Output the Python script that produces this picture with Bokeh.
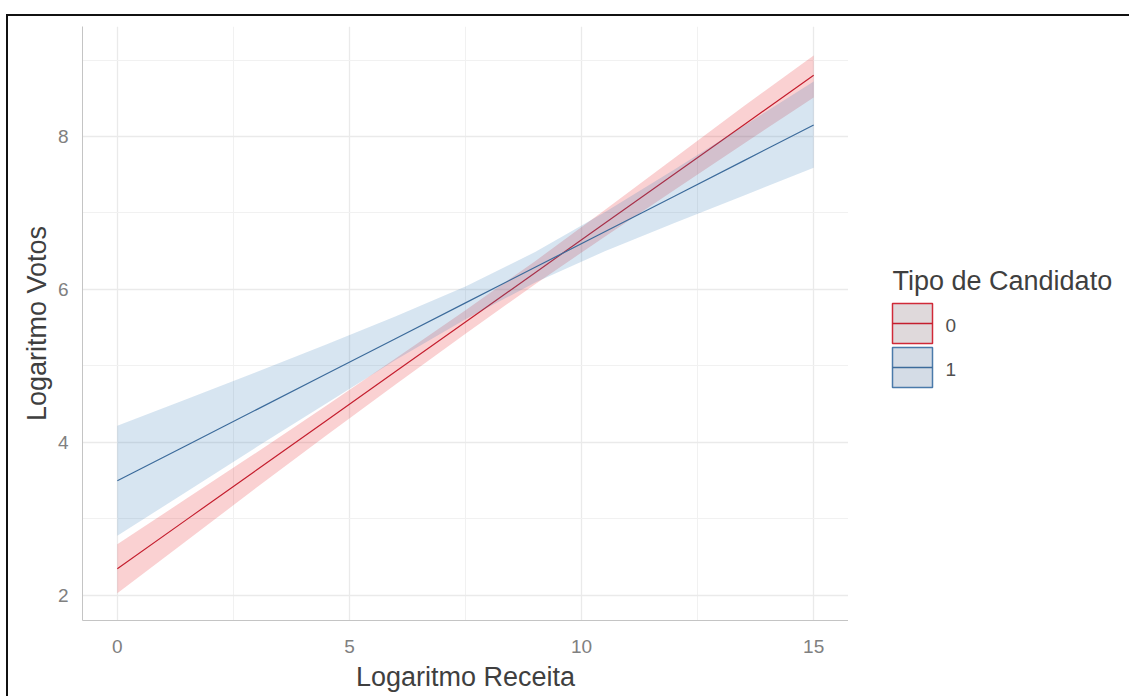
from bokeh.plotting import figure
from bokeh.layouts import row
from bokeh.models import Range1d, FixedTicker, ColumnDataSource
from bokeh.core.properties import value
from bokeh.embed import file_html
from bokeh.resources import INLINE

# ---------------- data ----------------
x_grid = [0, 1.5, 3, 4.5, 6, 7.5, 9, 10.5, 12, 13.5, 15]

fit_0 = [2.35, 2.995, 3.64, 4.285, 4.93, 5.575, 6.22, 6.865, 7.51, 8.155, 8.80]
lower_0 = [2.03, 2.72, 3.41, 4.09, 4.76, 5.42, 6.07, 6.69, 7.30, 7.91, 8.51]
upper_0 = [2.67, 3.27, 3.87, 4.48, 5.10, 5.73, 6.37, 7.04, 7.72, 8.40, 9.06]

fit_1 = [3.5, 3.965, 4.43, 4.895, 5.36, 5.825, 6.29, 6.755, 7.22, 7.685, 8.15]
lower_1 = [2.78, 3.36, 3.94, 4.51, 5.08, 5.61, 6.09, 6.50, 6.87, 7.23, 7.59]
upper_1 = [4.22, 4.57, 4.92, 5.28, 5.65, 6.04, 6.49, 7.01, 7.57, 8.14, 8.72]

groups = ["0", "1"]
legend_title = "Tipo de Candidato"
x_title = "Logaritmo Receita"
y_title = "Logaritmo Votos"
x_ticks = [0, 5, 10, 15]
x_minor = [2.5, 7.5, 12.5]
y_ticks = [2, 4, 6, 8]
y_minor = [3, 5, 7, 9]

# ---------------- styles ----------------
FONT = "Liberation Sans"
LINE_COLORS = ["#C41E2E", "#3C6B9B"]
FILL_COLORS = ["#E41A1C", "#377EB8"]
KEY_FILLS = ["#DFD9DB", "#D4DCE6"]
KEY_BORDERS = ["#D02A38", "#4A7AAA"]
TITLE_COLOR = "#3F3F3F"
TICK_COLOR = "#808080"

p = figure(width=840, height=680,
           x_range=Range1d(-0.75, 15.75), y_range=Range1d(1.673, 9.438),
           output_backend="svg", toolbar_location=None,
           min_border_left=74, min_border_right=0,
           min_border_top=10, min_border_bottom=76)
p.outline_line_color = None
p.background_fill_color = "white"
p.border_fill_color = "white"

p.xaxis.ticker = FixedTicker(ticks=x_ticks, minor_ticks=x_minor)
p.yaxis.ticker = FixedTicker(ticks=y_ticks, minor_ticks=y_minor)

for ax in (p.xaxis[0], p.yaxis[0]):
    ax.major_tick_line_color = None
    ax.minor_tick_line_color = None
    ax.major_tick_out = 0
    ax.major_tick_in = 0
    ax.minor_tick_out = 0
    ax.minor_tick_in = 0
    ax.axis_line_color = "#C4C4C4"
    ax.axis_line_width = 1
    ax.major_label_text_font = FONT
    ax.major_label_text_font_size = "19px"
    ax.major_label_text_color = TICK_COLOR
    ax.axis_label_text_font = FONT
    ax.axis_label_text_font_size = "27px"
    ax.axis_label_text_font_style = "normal"
    ax.axis_label_text_color = TITLE_COLOR

p.xaxis.axis_label = x_title
p.yaxis.axis_label = y_title
p.xaxis.major_label_standoff = 19
p.xaxis.axis_label_standoff = 6
p.yaxis.major_label_standoff = 14
p.yaxis.axis_label_standoff = 3

for g in (p.xgrid[0], p.ygrid[0]):
    g.grid_line_color = "#EAEAEA"
    g.grid_line_width = 1.3
    g.minor_grid_line_color = "#F1F1F1"
    g.minor_grid_line_width = 1

series = [(fit_0, lower_0, upper_0), (fit_1, lower_1, upper_1)]
for i, (fit, lo, hi) in enumerate(series):
    src = ColumnDataSource(dict(x=x_grid, fit=fit, lo=lo, hi=hi))
    p.varea(x="x", y1="lo", y2="hi", source=src,
            fill_color=FILL_COLORS[i], fill_alpha=0.2)
    p.line(x="x", y="fit", source=src, line_color=LINE_COLORS[i], line_width=1.2)

# ---------------- legend panel (page pixel coordinates; frame aligned with main frame) ----------------
lg = figure(frame_width=281, frame_height=594, title=None,
            x_range=Range1d(848, 1129), y_range=Range1d(620, 26),
            output_backend="svg", toolbar_location=None,
            x_axis_location=None, y_axis_location=None, min_border=0)
lg.outline_line_color = None
lg.grid.visible = False
lg.background_fill_color = "white"
lg.border_fill_color = "white"

key_left, key_size, key_gap, key_top0 = 892, 40, 4, 303
tops = [key_top0 + i * (key_size + key_gap) for i in range(len(groups))]
lg.quad(left=[key_left] * len(groups), right=[key_left + key_size] * len(groups),
        top=tops, bottom=[t + key_size for t in tops],
        fill_color=KEY_FILLS, line_color=KEY_BORDERS, line_width=1.5)
mids = [t + key_size / 2 for t in tops]
lg.segment(x0=[key_left] * len(groups), y0=mids,
           x1=[key_left + key_size] * len(groups), y1=mids,
           line_color=LINE_COLORS, line_width=1.3)
lg.text(x=[key_left + key_size + 13] * len(groups), y=[m + 2 for m in mids], text=groups,
        text_font=value(FONT), text_font_size="19px", text_color="#505050",
        text_baseline="middle", text_align="left")
lg.text(x=[key_left], y=[key_top0 - 23], text=[legend_title],
        text_font=value(FONT), text_font_size="27px", text_color=TITLE_COLOR,
        text_baseline="alphabetic", text_align="left")

layout = row(p, lg, styles={"border-top": "2px solid #111111",
                            "border-left": "2px solid #111111",
                            "margin-top": "14px", "margin-left": "6px"})

open("out.html", "w").write(file_html(layout, INLINE))
